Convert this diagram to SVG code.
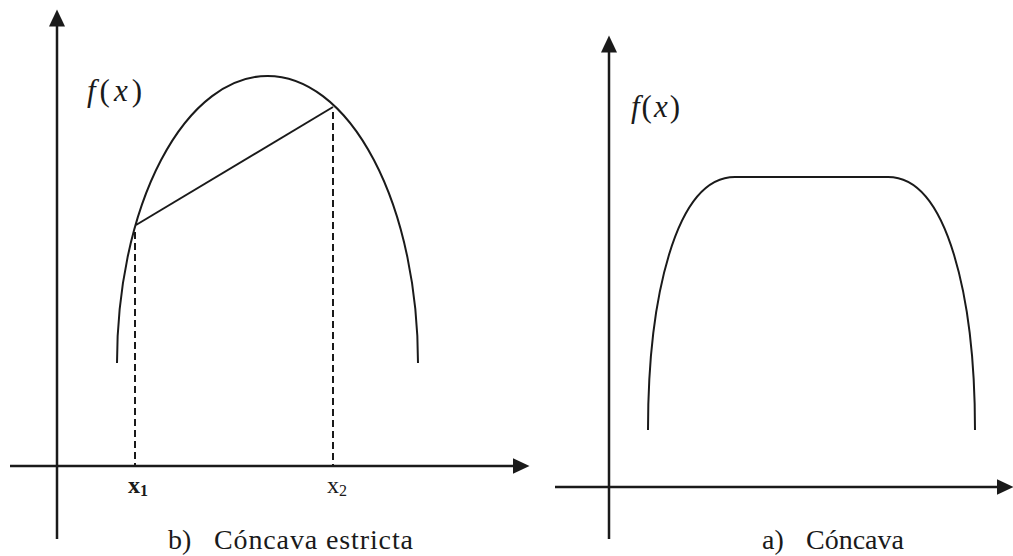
<svg xmlns="http://www.w3.org/2000/svg" width="1013" height="556" viewBox="0 0 1013 556">
  <style>
    .axis { stroke: #1a1a1a; stroke-width: 2.5; fill: none; }
    .curve { stroke: #1a1a1a; stroke-width: 2; fill: none; }
    .dash { stroke: #1a1a1a; stroke-width: 2; stroke-dasharray: 7 4; fill: none; }
    text { font-family: "Liberation Serif", "DejaVu Serif", "Times New Roman", serif; fill: #1a1a1a; }
  </style>
  <defs>
    <marker id="arrow" markerUnits="userSpaceOnUse" markerWidth="18" markerHeight="18" refX="0.5" refY="8" orient="auto">
      <path d="M0,0 L17,8 L0,16 Z" fill="#1a1a1a"/>
    </marker>
  </defs>
  <rect width="1013" height="556" fill="#ffffff"/>

  <g id="panel-b">
    <g id="axes-b">
      <line class="axis" x1="57" y1="539" x2="57" y2="26" marker-end="url(#arrow)"/>
      <line class="axis" x1="10" y1="466" x2="513" y2="466" marker-end="url(#arrow)"/>
    </g>
    <g id="curve-b">
      <path class="curve" d="M117,363 A150.5,287 0 0 1 418,363"/>
      <line class="curve" x1="136" y1="225" x2="333" y2="107"/>
    </g>
    <g id="guides-b">
      <line class="dash" x1="135" y1="232" x2="135" y2="466"/>
      <line class="dash" x1="333" y1="112" x2="333" y2="466"/>
    </g>
    <text font-family="Liberation Serif, serif" font-size="31" x="87" y="101" textLength="55" lengthAdjust="spacing"><tspan font-style="italic">f</tspan>(<tspan font-style="italic">x</tspan>)</text>
    <text font-family="Liberation Serif, serif" font-size="24" font-weight="bold" x="128" y="493">x<tspan font-size="16" dy="3">1</tspan></text>
    <text font-family="Liberation Serif, serif" font-size="24" x="327" y="493">x<tspan font-size="16" dy="3">2</tspan></text>
    <text font-family="Liberation Serif, serif" font-size="28" x="168" y="549">b)</text>
    <text font-family="Liberation Serif, serif" font-size="28" x="214" y="549" textLength="199" lengthAdjust="spacing">Cóncava estricta</text>
  </g>

  <g id="panel-a">
    <g id="axes-a">
      <line class="axis" x1="609" y1="539" x2="609" y2="52" marker-end="url(#arrow)"/>
      <line class="axis" x1="555" y1="487" x2="997" y2="487" marker-end="url(#arrow)"/>
    </g>
    <g id="curve-a">
      <path class="curve" d="M648,430 C648,300 675,177 735,177 L888,177 C948,177 975,300 975,430"/>
    </g>
    <text font-family="Liberation Serif, serif" font-size="31" x="631" y="117" textLength="49" lengthAdjust="spacing"><tspan font-style="italic">f</tspan>(<tspan font-style="italic">x</tspan>)</text>
    <text font-family="Liberation Serif, serif" font-size="28" x="762" y="549">a)</text>
    <text font-family="Liberation Serif, serif" font-size="28" x="806" y="549">Cóncava</text>
  </g>
</svg>
